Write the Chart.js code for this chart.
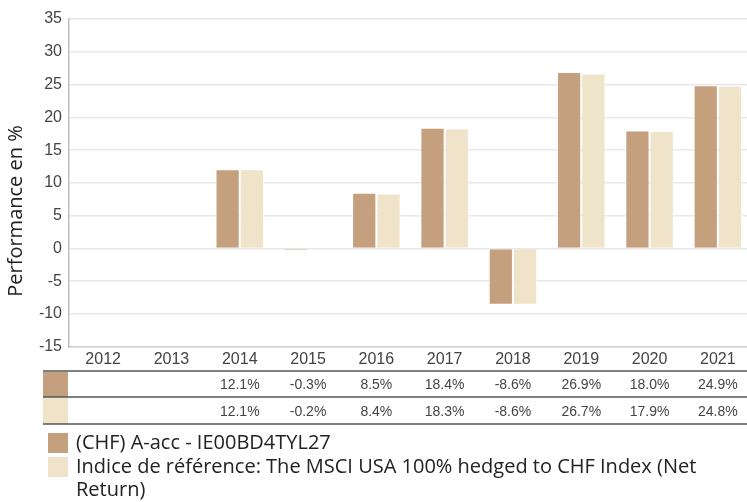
<!DOCTYPE html>
<html>
<head>
<meta charset="utf-8">
<script src="https://cdn.jsdelivr.net/npm/chart.js@4.4.1/dist/chart.umd.min.js"></script>
<style>
  html, body { margin: 0; padding: 0; background: #fff; overflow: hidden; }
  #wrap { width: 747px; height: 502px; overflow: hidden; }
</style>
</head>
<body>
<div id="wrap"><canvas id="perfChart" width="752" height="502"></canvas></div>
<script>
// years and yearly performance (%)
const years = ['2012', '2013', '2014', '2015', '2016', '2017', '2018', '2019', '2020', '2021'];
const fundValues = [null, null, 12.1, -0.3, 8.5, 18.4, -8.6, 26.9, 18.0, 24.9];
const indexValues = [null, null, 12.1, -0.2, 8.4, 18.3, -8.6, 26.7, 17.9, 24.8];
const seriesNames = [
    ['(CHF) A-acc - IE00BD4TYL27'],
    ['Indice de référence: The MSCI USA 100% hedged to CHF Index (Net', 'Return)']
];
const colors = ['#c4a07f', '#efe3c9'];
const yTicks = { min: -15, max: 35, step: 5 };
const yTitle = 'Performance en %';

const tickFont = '"Liberation Sans", Arial, sans-serif';
const legendFont = '"Open Sans", "Noto Sans", sans-serif';

// draws the data table + legend under the chart, and the y title
const tablePlugin = {
    id: 'tableLegend',
    afterDraw(chart) {
        const ctx = chart.ctx;
        const x = chart.scales.x;
        const left = 43, right = 752;
        const rows = [fundValues, indexValues];
        const lines = [371, 397, 424];

        ctx.save();
        // y title
        ctx.translate(16, 211);
        ctx.rotate(-Math.PI / 2);
        ctx.fillStyle = '#222';
        ctx.font = '20px ' + legendFont;
        ctx.textAlign = 'center';
        ctx.textBaseline = 'middle';
        ctx.fillText(yTitle, 0, 0);
        ctx.restore();

        ctx.save();
        rows.forEach((vals, r) => {
            const top = lines[r] + 1, bottom = lines[r + 1];
            ctx.fillStyle = colors[r];
            ctx.fillRect(left, top, 25, bottom - top);
            ctx.fillStyle = '#444';
            ctx.font = '14px ' + tickFont;
            ctx.textAlign = 'center';
            ctx.textBaseline = 'middle';
            vals.forEach((v, i) => {
                if (v === null) return;
                ctx.fillText(v.toFixed(1) + '%', x.getPixelForValue(i), (top + bottom) / 2 + 1);
            });
        });
        ctx.strokeStyle = '#555';
        ctx.lineWidth = 1.5;
        lines.forEach(y => {
            ctx.beginPath();
            ctx.moveTo(left, y);
            ctx.lineTo(right, y);
            ctx.stroke();
        });

        // legend
        const legendTops = [433, 457];
        seriesNames.forEach((name, r) => {
            const t = legendTops[r];
            ctx.fillStyle = colors[r];
            ctx.fillRect(48, t, 20, 20);
            ctx.fillStyle = '#222';
            ctx.font = '20px ' + legendFont;
            ctx.textAlign = 'left';
            ctx.textBaseline = 'middle';
            name.forEach((line, k) => {
                ctx.fillText(line, 76, t + 10 + k * 23);
            });
        });
        ctx.restore();
    }
};

const ctx = document.getElementById('perfChart').getContext('2d');
const perfChart = new Chart(ctx, {
    type: 'bar',
    data: {
        labels: years,
        datasets: [{
            label: seriesNames[0].join(' '),
            data: fundValues,
            backgroundColor: colors[0],
            borderColor: 'rgba(255,255,255,0.7)',
            borderWidth: 1
        }, {
            label: seriesNames[1].join(' '),
            data: indexValues,
            backgroundColor: colors[1],
            borderColor: 'rgba(255,255,255,0.7)',
            borderWidth: 1
        }]
    },
    options: {
        responsive: false,
        animation: false,
        devicePixelRatio: 1,
        layout: { padding: { left: 25, top: 19, right: 0, bottom: 130 } },
        datasets: { bar: { categoryPercentage: 0.71, barPercentage: 1 } },
        plugins: {
            legend: { display: false },
            tooltip: { enabled: false }
        },
        scales: {
            x: {
                grid: { display: false, drawTicks: false },
                border: { color: '#d0d0d0', width: 1.5 },
                ticks: { color: '#444', font: { family: tickFont, size: 16 }, padding: 3 }
            },
            y: {
                min: yTicks.min,
                max: yTicks.max,
                afterFit(scale) { scale.width = 44; },
                grid: { color: '#e8e8e8', lineWidth: 1.5, drawTicks: false },
                border: { color: '#bdbdbd', width: 1.5 },
                ticks: { stepSize: yTicks.step, color: '#444', font: { family: tickFont, size: 16 }, padding: 7 }
            }
        }
    },
    plugins: [tablePlugin]
});
</script>
</body>
</html>
